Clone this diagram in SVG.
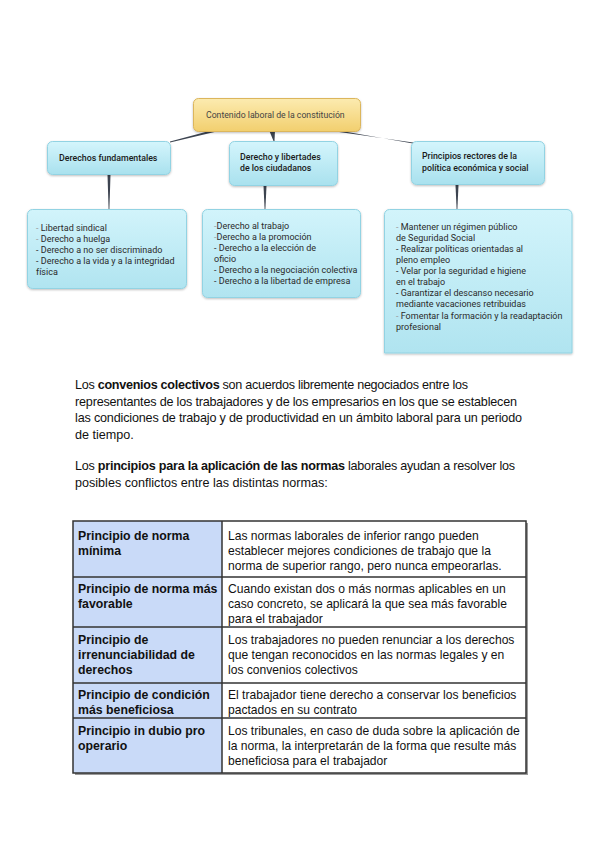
<svg xmlns="http://www.w3.org/2000/svg" width="600" height="848" viewBox="0 0 600 848">
<defs>
<linearGradient id="gy" x1="0" y1="0" x2="0" y2="1"><stop offset="0" stop-color="#fcebb0"/><stop offset="1" stop-color="#f2cf6e"/></linearGradient>
<linearGradient id="gb" x1="0" y1="0" x2="0" y2="1"><stop offset="0" stop-color="#d4f5fc"/><stop offset="1" stop-color="#a9e1ee"/></linearGradient>
<linearGradient id="gb2" x1="0" y1="0" x2="0" y2="1"><stop offset="0" stop-color="#d2f4fb"/><stop offset="1" stop-color="#b0e4f0"/></linearGradient>
<filter id="sh" x="-10%" y="-10%" width="120%" height="130%"><feDropShadow dx="0" dy="1" stdDeviation="1" flood-color="#000" flood-opacity="0.25"/></filter>
</defs>
<style>
.nt{font-family:Roboto,"Liberation Sans",sans-serif;font-size:9px;fill:#2a2a2a}
.n2{font-family:Roboto,"Liberation Sans",sans-serif;font-size:8.8px;font-weight:500;fill:#1a1a1a}
.n1{font-family:Roboto,"Liberation Sans",sans-serif;font-size:8.7px;fill:#444}
.f{fill:#9a9a9a}
.p{font-family:"Liberation Sans",Arial,sans-serif;font-size:12.6px;fill:#111}
.tb{font-family:"Liberation Sans",Arial,sans-serif;font-size:12.3px;font-weight:bold;fill:#111}
.tt{font-family:"Liberation Sans",Arial,sans-serif;font-size:12.1px;fill:#111}
.bx{stroke:#92d3e3;stroke-width:1;filter:url(#sh)}
.con{fill:#3d4450}
</style>

<g id="connectors">
<polygon class="con" points="213,130 223,130 170,142.5 170,141.5"/>
<polygon class="con" points="269,130 275,130 274.5,141 273.5,141"/>
<polygon class="con" points="325,130 336,130 413,143.5 413,142.5"/>
<polygon class="con" points="107.5,175 110.5,175 109.4,209 108.6,209"/>
<polygon class="con" points="263.5,186 266.5,186 265.4,209 264.6,209"/>
<polygon class="con" points="455.5,185 458.5,185 457.4,209 456.6,209"/>
</g>

<g id="root">
<rect x="193.5" y="98.5" width="167" height="33" rx="5" fill="url(#gy)" stroke="#dcb65c" filter="url(#sh)"/>
<text class="n1" x="206" y="118">Contenido laboral de la constitución</text>
</g>

<g id="n-fund">
<rect class="bx" x="47.5" y="141.5" width="123" height="33" rx="5" fill="url(#gb)"/>
<text class="n2" x="59" y="161">Derechos fundamentales</text>
</g>
<g id="n-ciud">
<rect class="bx" x="229.5" y="141.5" width="108" height="44" rx="5" fill="url(#gb)"/>
<text class="n2" x="240" y="160">Derecho y libertades</text>
<text class="n2" x="240" y="171">de los ciudadanos</text>
</g>
<g id="n-princ">
<rect class="bx" x="411.5" y="141.5" width="133" height="43" rx="5" fill="url(#gb)"/>
<text class="n2" x="422" y="159">Principios rectores de la</text>
<text class="n2" x="422" y="171">política económica y social</text>
</g>

<g id="l-fund">
<rect class="bx" x="27.5" y="209.5" width="159" height="79" rx="5" fill="url(#gb2)"/>
<text class="nt" x="36" y="231"><tspan class="f">-</tspan> Libertad sindical</text>
<text class="nt" x="36" y="242"><tspan class="f">-</tspan> Derecho a huelga</text>
<text class="nt" x="36" y="253">- Derecho a no ser discriminado</text>
<text class="nt" x="36" y="264">- Derecho a la vida y a la integridad</text>
<text class="nt" x="36" y="275">física</text>
</g>
<g id="l-ciud">
<rect class="bx" x="202.5" y="209.5" width="158" height="88" rx="5" fill="url(#gb2)"/>
<text class="nt" x="214" y="229"><tspan class="f">-</tspan>Derecho al trabajo</text>
<text class="nt" x="214" y="240"><tspan class="f">-</tspan>Derecho a la promoción</text>
<text class="nt" x="214" y="251">- Derecho a la elección de</text>
<text class="nt" x="214" y="262">oficio</text>
<text class="nt" x="214" y="273">- Derecho a la negociación colectiva</text>
<text class="nt" x="214" y="284">- Derecho a la libertad de empresa</text>
</g>
<g id="l-princ">
<path class="bx" d="M384.5,353 V214.5 a5,5 0 0 1 5,-5 H567 a5,5 0 0 1 5,5 V353 Z" fill="url(#gb2)"/>
<text class="nt" x="396" y="230"><tspan class="f">-</tspan>  Mantener un régimen público</text>
<text class="nt" x="396" y="241">de Seguridad Social</text>
<text class="nt" x="396" y="252">- Realizar políticas orientadas al</text>
<text class="nt" x="396" y="263">pleno empleo</text>
<text class="nt" x="396" y="274">- Velar por la seguridad e higiene</text>
<text class="nt" x="396" y="285">en el trabajo</text>
<text class="nt" x="396" y="296">- Garantizar el descanso necesario</text>
<text class="nt" x="396" y="307">mediante vacaciones retribuidas</text>
<text class="nt" x="396" y="319"><tspan class="f">-</tspan> Fomentar la formación y la readaptación</text>
<text class="nt" x="396" y="330">profesional</text>
</g>

<g id="texto">
<text class="p" x="75" y="389" textLength="393">Los <tspan font-weight="bold">convenios colectivos</tspan> son acuerdos libremente negociados entre los</text>
<text class="p" x="75" y="406" textLength="442">representantes de los trabajadores y de los empresarios en los que se establecen</text>
<text class="p" x="75" y="422" textLength="447">las condiciones de trabajo y de productividad en un ámbito laboral para un periodo</text>
<text class="p" x="75" y="439">de tiempo.</text>
<text class="p" x="75" y="470" textLength="440">Los <tspan font-weight="bold">principios para la aplicación de las normas</tspan> laborales ayudan a resolver los</text>
<text class="p" x="75" y="487">posibles conflictos entre las distintas normas:</text>
</g>

<g id="tabla">
<rect x="75" y="523" width="453" height="252" fill="#9a9a9a"/>
<rect x="73" y="521" width="149" height="252" fill="#c9daf8"/>
<rect x="222" y="521" width="304" height="252" fill="#fff"/>
<g stroke="#333" stroke-width="1.5" fill="none">
<rect x="73" y="521" width="453" height="252"/>
<line x1="222" y1="521" x2="222" y2="773"/>
<line x1="73" y1="577" x2="526" y2="577"/>
<line x1="73" y1="627" x2="526" y2="627"/>
<line x1="73" y1="683" x2="526" y2="683"/>
<line x1="73" y1="718" x2="526" y2="718"/>
</g>
<text class="tb" x="78" y="540">Principio de norma</text>
<text class="tb" x="78" y="555">mínima</text>
<text class="tt" x="228" y="540">Las normas laborales de inferior rango pueden</text>
<text class="tt" x="228" y="555">establecer mejores condiciones de trabajo que la</text>
<text class="tt" x="228" y="570">norma de superior rango, pero nunca empeorarlas.</text>

<text class="tb" x="78" y="593">Principio de norma más</text>
<text class="tb" x="78" y="608">favorable</text>
<text class="tt" x="228" y="593">Cuando existan dos o más normas aplicables en un</text>
<text class="tt" x="228" y="608">caso concreto, se aplicará la que sea más favorable</text>
<text class="tt" x="228" y="623">para el trabajador</text>

<text class="tb" x="78" y="644">Principio de</text>
<text class="tb" x="78" y="659">irrenunciabilidad de</text>
<text class="tb" x="78" y="674">derechos</text>
<text class="tt" x="228" y="644">Los trabajadores no pueden renunciar a los derechos</text>
<text class="tt" x="228" y="659">que tengan reconocidos en las normas legales y  en</text>
<text class="tt" x="228" y="674">los convenios colectivos</text>

<text class="tb" x="78" y="699">Principio de condición</text>
<text class="tb" x="78" y="714">más beneficiosa</text>
<text class="tt" x="228" y="699">El trabajador tiene derecho a conservar los beneficios</text>
<text class="tt" x="228" y="714">pactados en su contrato</text>

<text class="tb" x="78" y="735">Principio in dubio pro</text>
<text class="tb" x="78" y="750">operario</text>
<text class="tt" x="228" y="735">Los tribunales, en caso de duda sobre la aplicación de</text>
<text class="tt" x="228" y="750">la norma, la interpretarán de la forma que resulte más</text>
<text class="tt" x="228" y="765">beneficiosa para el trabajador</text>
</g>
</svg>
